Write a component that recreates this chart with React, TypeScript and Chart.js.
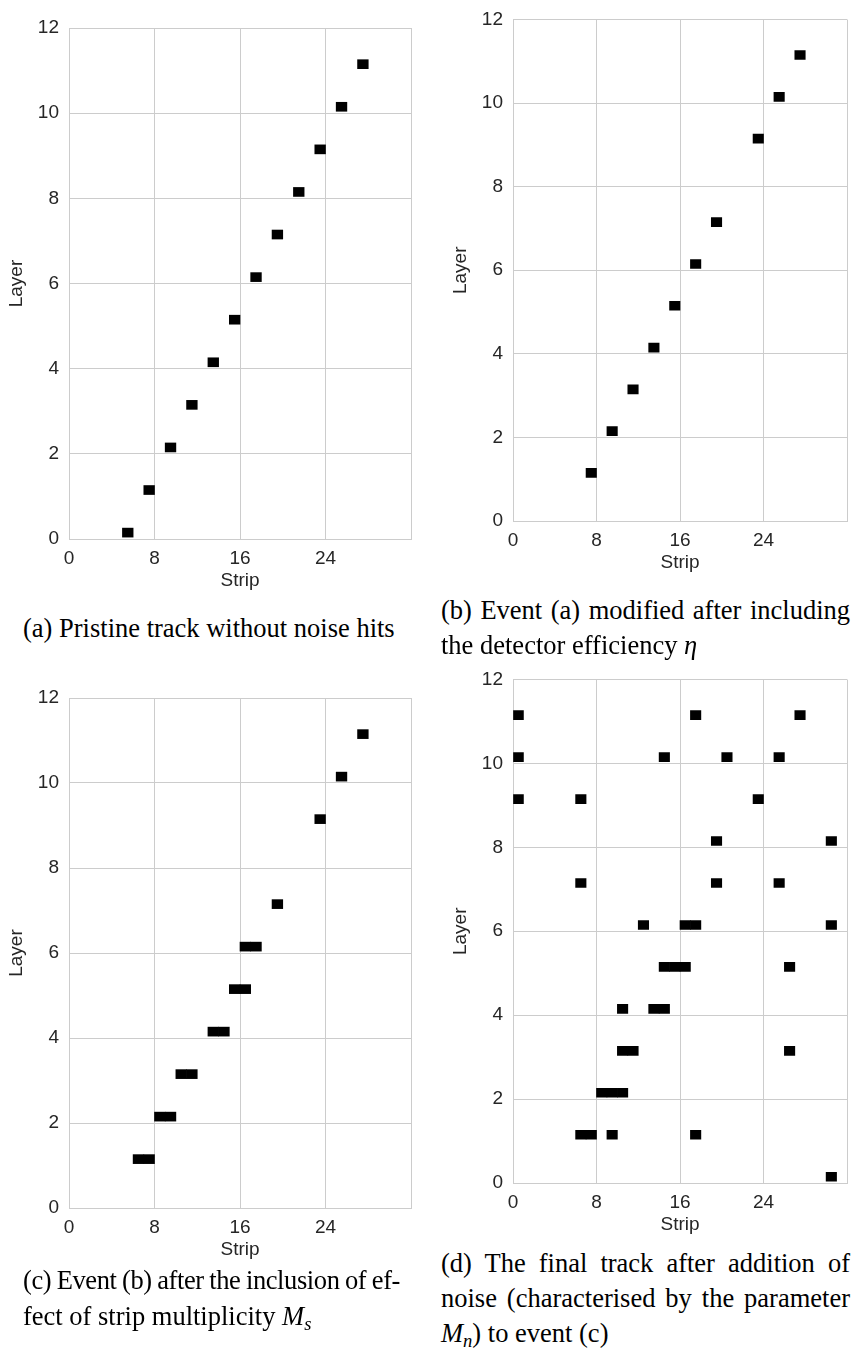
import React, { useEffect, useRef } from 'react';
import { Chart, registerables } from 'chart.js';

Chart.register(...registerables);

// ---- data ----
const stripTicks = [0, 8, 16, 24];
const stripMax = 32;
const layerMax = 12;
const layerStep = 2;

// (a) pristine track
const layersA = [0, 1, 2, 3, 4, 5, 6, 7, 8, 9, 10, 11];
const stripsA = [5, 7, 9, 11, 13, 15, 17, 19, 21, 23, 25, 27];
// (b) after efficiency
const layersB = [1, 2, 3, 4, 5, 6, 7, 9, 10, 11];
const stripsB = [7, 9, 11, 13, 15, 17, 19, 23, 25, 27];
// (c) after strip multiplicity
const layersC = [1, 1, 2, 2, 3, 3, 4, 4, 5, 5, 6, 6, 7, 9, 10, 11];
const stripsC = [6, 7, 8, 9, 10, 11, 13, 14, 15, 16, 16, 17, 19, 23, 25, 27];
// (d) with noise
const layersD = [
  11, 11, 11,
  10, 10, 10, 10,
  9, 9, 9,
  8, 8,
  7, 7, 7,
  6, 6, 6, 6,
  5, 5, 5, 5,
  4, 4, 4,
  3, 3, 3,
  2, 2, 2,
  1, 1, 1, 1,
  0,
];
const stripsD = [
  0, 17, 27,
  0, 14, 20, 25,
  0, 6, 23,
  19, 30,
  6, 19, 25,
  12, 16, 17, 30,
  14, 15, 16, 26,
  10, 13, 14,
  10, 11, 26,
  8, 9, 10,
  6, 7, 9, 17,
  30,
];

const HIT_OFFSET = 0.15;
const SANS = '"Liberation Sans", Arial, sans-serif';
const SERIF = '"Liberation Serif", "Times New Roman", serif';
const TEXT = '#262626';
const GRID = '#cccccc';

type PanelProps = {
  layers: number[];
  strips: number[];
  left: number;
  top: number;
  width: number;
  height: number;
  padL: number;
  padR: number;
  padT: number;
};

function Panel({ layers, strips, left, top, width, height, padL, padR, padT }: PanelProps) {
  const ref = useRef<HTMLCanvasElement>(null);
  useEffect(() => {
    const data = layers.map((l, i) => ({ x: [strips[i], strips[i] + 1], y: l + HIT_OFFSET }));
    const chart = new Chart(ref.current as HTMLCanvasElement, {
      type: 'bar',
      data: {
        datasets: [
          {
            data: data as any,
            backgroundColor: '#000000',
            borderWidth: 0,
            barThickness: 9,
          },
        ],
      },
      options: {
        indexAxis: 'y',
        animation: false,
        responsive: false,
        maintainAspectRatio: false,
        events: [],
        layout: { padding: { left: padL, right: padR, top: padT, bottom: 0 } },
        plugins: { legend: { display: false }, tooltip: { enabled: false } },
        scales: {
          x: {
            type: 'linear',
            min: 0,
            max: stripMax,
            offset: false,
            z: 1,
            afterBuildTicks: (s: any) => {
              s.ticks = [...stripTicks, stripMax].map((v) => ({ value: v }));
            },
            ticks: {
              autoSkip: false,
              maxRotation: 0,
              padding: 10,
              color: TEXT,
              font: { family: SANS, size: 19, lineHeight: 1 },
              callback: (v: any) => (stripTicks.includes(Number(v)) ? String(v) : ''),
            },
            grid: { color: GRID, lineWidth: 1, drawTicks: false, offset: false },
            border: { display: true, color: GRID, width: 1 },
            title: {
              display: true,
              text: 'Strip',
              color: TEXT,
              font: { family: SANS, size: 19 },
              padding: { top: 2, bottom: 3 },
            },
            afterFit: (s: any) => {
              s.height = 56;
            },
          },
          y: {
            type: 'linear',
            min: 0,
            max: layerMax,
            offset: false,
            ticks: {
              stepSize: layerStep,
              padding: 10,
              color: TEXT,
              font: { family: SANS, size: 19, lineHeight: 1 },
            },
            grid: { color: GRID, lineWidth: 1, drawTicks: false, offset: false },
            border: { display: true, color: GRID, width: 1 },
            title: {
              display: true,
              text: 'Layer',
              color: TEXT,
              font: { family: SANS, size: 19 },
              padding: { top: 5, bottom: 4 },
            },
            afterFit: (s: any) => {
              s.width = 69;
            },
          },
        },
      },
    } as any);
    return () => chart.destroy();
  }, []);
  return (
    <canvas
      ref={ref}
      width={width}
      height={height}
      style={{ position: 'absolute', left, top, width, height }}
    />
  );
}

const capBase: React.CSSProperties = {
  position: 'absolute',
  fontFamily: SERIF,
  fontSize: 26.5,
  lineHeight: '35px',
  color: '#000',
  whiteSpace: 'nowrap',
};

function Line({ x, y, w, justify, ws, ls, children }: { x: number; y: number; w?: number; justify?: boolean; ws?: number; ls?: number; children: React.ReactNode }) {
  return (
    <div
      style={{
        ...capBase,
        left: x,
        top: y - 17.5,
        width: w,
        wordSpacing: ws ? `${ws}px` : undefined,
        letterSpacing: ls ? `${ls}px` : undefined,
        textAlign: justify ? 'justify' : 'left',
        textAlignLast: justify ? 'justify' : 'auto',
      } as React.CSSProperties}
    >
      {children}
    </div>
  );
}

const subStyle: React.CSSProperties = { fontSize: '0.7em', verticalAlign: '-0.25em', lineHeight: 0, letterSpacing: 0 };

export default function App() {
  return (
    <div style={{ position: 'absolute', left: 0, top: 0, width: 857, height: 1358, background: '#fff', overflow: 'hidden' }}>
      <Panel layers={layersA} strips={stripsA} left={0} top={0} width={428} height={595} padL={0} padR={17} padT={28} />
      <Panel layers={layersB} strips={stripsB} left={428} top={0} width={429} height={577} padL={16} padR={2} padT={10} />
      <Panel layers={layersC} strips={stripsC} left={0} top={660} width={428} height={604} padL={0} padR={17} padT={38} />
      <Panel layers={layersD} strips={stripsD} left={428} top={660} width={429} height={579} padL={16} padR={2} padT={10} />

      <Line x={23} y={628}>(a) Pristine track without noise hits</Line>

      <Line x={441} y={610} w={409} justify>(b) Event (a) modified after including</Line>
      <Line x={441} y={645}>the detector efficiency <i>η</i></Line>

      <Line x={23} y={1280} w={377} justify ws={-0.8} ls={-0.4}>(c) Event (b) after the inclusion of ef-</Line>
      <Line x={23} y={1316}>fect of strip multiplicity <i>M<sub style={subStyle}>s</sub></i></Line>

      <Line x={441} y={1263} w={409} justify>(d) The final track after addition of</Line>
      <Line x={441} y={1298} w={409} justify>noise (characterised by the parameter</Line>
      <Line x={441} y={1333}><i>M<sub style={subStyle}>n</sub></i>) to event (c)</Line>
    </div>
  );
}
